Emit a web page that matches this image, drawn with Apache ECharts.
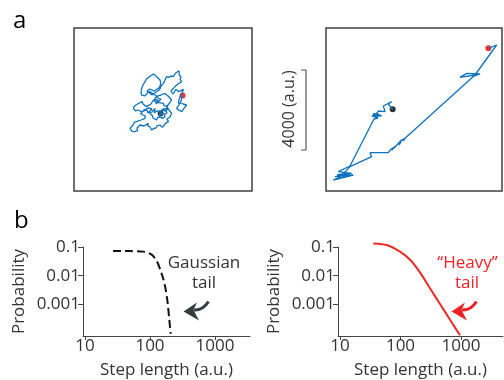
<!DOCTYPE html>
<html><head><meta charset="utf-8">
<script src="https://cdn.jsdelivr.net/npm/echarts@6/dist/echarts.min.js"></script>
<style>html,body{margin:0;padding:0;background:#fff}#c{width:504px;height:380px}</style>
</head><body><div id="c"></div>
<script>
// ---- data (a.u.) ----
const brownianWalk = [[4330,3880],[4280,3990],[4150,4000],[4020,3920],[4050,4130],[3950,4080],[3900,3950],[3780,3900],[3800,3800],[3920,3760],[3950,3650],[4020,3560],[4130,3550],[4180,3680],[4300,3700],[4420,3630],[4550,3720],[4520,3840],[4650,3900],[4600,4010],[4720,4130],[4450,4100],[4300,3950],[4450,3850],[4250,3800],[4400,4050],[4600,4000],[4690,4230],[4600,4250],[4500,4270],[4470,4380],[4380,4480],[4250,4420],[4100,4430],[3970,4550],[3880,4480],[3850,4350],[3760,4330],[3630,4220],[3560,4300],[3450,4350],[3400,4470],[3300,4380],[3180,4350],[3100,4250],[3010,4240],[2970,4130],[3080,4000],[3200,4050],[3300,4100],[3380,3970],[3650,4050],[3700,3900],[3900,4100],[3700,4150],[3500,4050],[3330,3870],[3450,3800],[3560,3760],[3550,3630],[3450,3600],[3350,3550],[3260,3620],[3130,3470],[3020,3440],[2950,3300],[2900,3200],[2800,3130],[2820,3030],[2900,2980],[2980,3080],[3050,2970],[3180,3030],[3150,3150],[3220,3250],[3300,3300],[3400,3200],[3500,3250],[3600,3350],[3720,3380],[3680,3270],[3800,3200],[3750,3100],[3880,3050],[3990,3130],[4100,3150],[4160,3260],[4300,3300],[4420,3180],[4500,3250],[4580,3380],[4720,3470],[4650,3600],[4800,3700],[4740,3800],[4880,3880],[4850,3980],[4750,4050],[4760,4150],[4630,4220],[4700,4320],[4780,4400],[4760,4480],[4880,4550],[4820,4650],[4700,4750],[4640,4820],[4550,4880],[4470,4780],[4350,4800],[4240,4770],[4130,4720],[4000,4550],[4200,4550],[4100,4350],[4350,4600],[4200,4650],[4060,4800],[3950,4850],[3900,4950],[3800,4970],[3690,4930],[3600,4850],[3560,4760],[3470,4720],[3390,4790],[3350,4900],[3270,5000],[3380,5130],[3330,5220],[3450,5300],[3430,5400],[3550,5470],[3620,5600],[3750,5700],[3850,5680],[3970,5850],[4070,5820],[4150,5700],[4200,5610],[4300,5550],[4330,5440],[4250,5350],[4310,5240],[4220,5130],[4000,5000],[3800,5100],[3650,5000],[3900,4800],[4100,4950],[4280,5060],[4350,5250],[4420,5290],[4470,5380],[4460,5480],[4550,5550],[4540,5650],[4630,5720],[4740,5680],[4850,5750],[4960,5720],[5050,5800],[5080,5900],[5180,5950],[5250,6010],[5300,5920],[5260,5810],[5350,5700],[5300,5580],[5380,5470],[5290,5420],[5200,5350],[5150,5300],[5050,5220],[5000,5130],[4850,5000],[4950,4850],[5050,4950],[5100,5080],[5140,4990],[5220,4970],[5300,5060],[5350,5020],[5420,5000],[5470,5080],[5490,4980],[5400,4900],[5380,4800],[5300,4720],[5330,4630],[5250,4550],[5160,4480],[5220,4380],[5330,4400],[5450,4350],[5540,4390],[5630,4300],[5590,4200],[5500,4130],[5460,4030],[5380,3970],[5310,3950],[5250,4050],[5180,4090],[5130,4130],[5160,4220],[5250,4300],[5300,4400],[5350,4500],[5390,4600],[5430,4770]];
const levyWalk = [[3333,4083],[3117,4350],[3283,4467],[3200,4400],[2867,4250],[2950,3967],[2617,4000],[2700,3900],[2500,3800],[2783,3750],[2600,3850],[2533,3633],[2367,3883],[2617,3800],[2550,3700],[2450,3683],[2650,3750],[2550,3900],[2300,3750],[2500,3700],[2350,3850],[2600,3650],[2400,3600],[1200,1250],[617,967],[1283,883],[450,717],[1367,800],[367,550],[1100,900],[550,800],[867,850],[1200,1217],[2283,1717],[2200,1917],[3117,1917],[3200,2050],[3450,2217],[3283,2033],[3617,2383],[3400,2150],[3500,2133],[3550,2300],[3783,2550],[3667,2300],[3700,2500],[3950,2633],[3850,2500],[4033,2717],[7450,5800],[6700,5683],[7033,5883],[7700,5850],[7333,5717],[7450,5800],[8533,7300],[8117,7133]];
const gaussStep = [27, 50, 79, 106, 127, 143, 160, 175, 187, 198, 208];
const gaussProb = [0.073, 0.072, 0.069, 0.054, 0.032, 0.0168, 0.0077, 0.0031, 0.0011, 0.0003, 0.000095];
const heavyStep = [35.5, 59, 98, 144, 210, 307, 450, 658, 961];
const heavyProb = [0.133, 0.117, 0.069, 0.036, 0.013, 0.00366, 0.00103, 0.000294, 0.000084];
const xTickValues = [10, 100, 1000];
const yTickValues = [0.001, 0.01, 0.1];
const scaleBarLength = 4000;
const scaleBarTop = 6050;

// ---- build ----
const FONT = 'Open Sans';
const TXT = '#333';
const AX = '#444';
const zip = (a, b) => a.map((v, i) => [v, b[i]]);
const fmt = v => { const e = Math.round(Math.log10(v)); return e >= 0 ? String(Math.pow(10, e)) : Math.pow(10, e).toFixed(-e); };
const scaleBar = [[0, scaleBarTop], [1, scaleBarTop], [1, scaleBarTop - scaleBarLength], [0, scaleBarTop - scaleBarLength]];

function logX(grid, min, max) {
  return { gridIndex: grid, type: 'log', logBase: 10, min: min, max: max,
    axisLine: { lineStyle: { color: AX, width: 1 } },
    axisTick: { length: 4, customValues: xTickValues, lineStyle: { color: AX } },
    axisLabel: { customValues: xTickValues, fontFamily: FONT, fontSize: 17, color: TXT, margin: 2, formatter: fmt },
    splitLine: { show: false }, minorTick: { show: false },
    name: 'Step length (a.u.)', nameLocation: 'middle', nameGap: 26,
    nameTextStyle: { fontFamily: FONT, fontSize: 17, color: TXT } };
}
function logY(grid) {
  return { gridIndex: grid, type: 'log', logBase: 10, min: 7.93e-5, max: 0.1,
    axisLine: { lineStyle: { color: AX, width: 1 } },
    axisTick: { length: 5, customValues: yTickValues, lineStyle: { color: AX } },
    axisLabel: { customValues: yTickValues, fontFamily: FONT, fontSize: 17, color: TXT, margin: 3, formatter: fmt },
    splitLine: { show: false },
    name: 'Probability', nameLocation: 'middle', nameGap: 55,
    nameTextStyle: { fontFamily: FONT, fontSize: 17, color: TXT } };
}
function arrow(dx, color) {
  return { type: 'group', x: dx, y: 0, children: [
    { type: 'polygon', shape: { points: [[183.5, 311.5], [197, 302.5], [193.5, 310], [199, 320.5]] }, style: { fill: color } },
    { type: 'bezierCurve', shape: { x1: 194, y1: 310, cpx1: 203, cpy1: 310.5, x2: 208.5, y2: 301.5 }, style: { stroke: color, lineWidth: 3, fill: null } }
  ]};
}
function txt(x, y, s, size, color, rot) {
  return { type: 'text', x: x, y: y, rotation: rot || 0,
    style: { text: s, fontFamily: FONT, fontSize: size, fill: color, align: 'center', verticalAlign: 'middle', textAlign: 'center', textVerticalAlign: 'middle' } };
}

const chart = echarts.init(document.getElementById('c'), null, { renderer: 'canvas' });
chart.setOption({
  animation: false,
  backgroundColor: '#fff',
  textStyle: { fontFamily: FONT },
  grid: [
    { left: 74, top: 28, width: 178, height: 163, show: true, borderColor: '#404040', borderWidth: 1.5, backgroundColor: 'transparent' },
    { left: 326, top: 28, width: 176, height: 163, show: true, borderColor: '#404040', borderWidth: 1.5, backgroundColor: 'transparent' },
    { left: 83, top: 247, width: 167, height: 92 },
    { left: 338, top: 247, width: 165, height: 92 },
    { left: 301, top: 28, width: 5, height: 163 }
  ],
  xAxis: [
    { gridIndex: 0, type: 'value', min: 0, max: 8900, show: false },
    { gridIndex: 1, type: 'value', min: 0, max: 8800, show: false },
    logX(2, 9.315, 3453),
    logX(3, 9.27, 4945),
    { gridIndex: 4, type: 'value', min: 0, max: 1, show: false }
  ],
  yAxis: [
    { gridIndex: 0, type: 'value', min: 0, max: 8150, show: false },
    { gridIndex: 1, type: 'value', min: 0, max: 8150, show: false },
    logY(2),
    logY(3),
    { gridIndex: 4, type: 'value', min: 0, max: 8150, show: false }
  ],
  series: [
    { type: 'line', xAxisIndex: 0, yAxisIndex: 0, data: brownianWalk, showSymbol: false, lineStyle: { color: '#0f72bd', width: 1.3 } },
    { type: 'scatter', xAxisIndex: 0, yAxisIndex: 0, data: [brownianWalk[0]], symbolSize: 6, itemStyle: { color: '#000' } },
    { type: 'scatter', xAxisIndex: 0, yAxisIndex: 0, data: [brownianWalk[brownianWalk.length - 1]], symbolSize: 6, itemStyle: { color: '#ff0000' } },
    { type: 'line', xAxisIndex: 1, yAxisIndex: 1, data: levyWalk, showSymbol: false, lineStyle: { color: '#0f72bd', width: 1.3 } },
    { type: 'scatter', xAxisIndex: 1, yAxisIndex: 1, data: [levyWalk[0]], symbolSize: 6, itemStyle: { color: '#000' } },
    { type: 'scatter', xAxisIndex: 1, yAxisIndex: 1, data: [levyWalk[levyWalk.length - 1]], symbolSize: 6, itemStyle: { color: '#ff0000' } },
    { type: 'line', xAxisIndex: 4, yAxisIndex: 4, data: scaleBar, clip: false, showSymbol: false, lineStyle: { color: '#555', width: 1.2 } },
    { type: 'line', xAxisIndex: 2, yAxisIndex: 2, data: zip(gaussStep, gaussProb), clip: false, showSymbol: false, smooth: 0.3, lineStyle: { color: '#111', width: 2, type: [8, 4] } },
    { type: 'line', xAxisIndex: 3, yAxisIndex: 3, data: zip(heavyStep, heavyProb), clip: false, showSymbol: false, smooth: 0.25, lineStyle: { color: '#ee2a27', width: 2 } }
  ],
  graphic: [
    { type: 'text', x: 13, y: 21, style: { text: 'a', fontFamily: FONT, fontSize: 24, fill: '#000', align: 'left', verticalAlign: 'middle', textAlign: 'left', textVerticalAlign: 'middle' } },
    { type: 'text', x: 14, y: 221, style: { text: 'b', fontFamily: FONT, fontSize: 24, fill: '#000', align: 'left', verticalAlign: 'middle', textAlign: 'left', textVerticalAlign: 'middle' } },
    txt(289.5, 109, '4000 (a.u.)', 16, TXT, Math.PI / 2),
    txt(204, 263.5, 'Gaussian', 17, TXT),
    txt(204, 283.5, 'tail', 17, TXT),
    txt(467.5, 263.5, '\u201CHeavy\u201D', 17, '#ee2224'),
    txt(467, 283.5, 'tail', 17, '#ee2224'),
    arrow(0, '#363d3d'),
    arrow(268, '#ee2224')
  ]
});
</script>
</body></html>
